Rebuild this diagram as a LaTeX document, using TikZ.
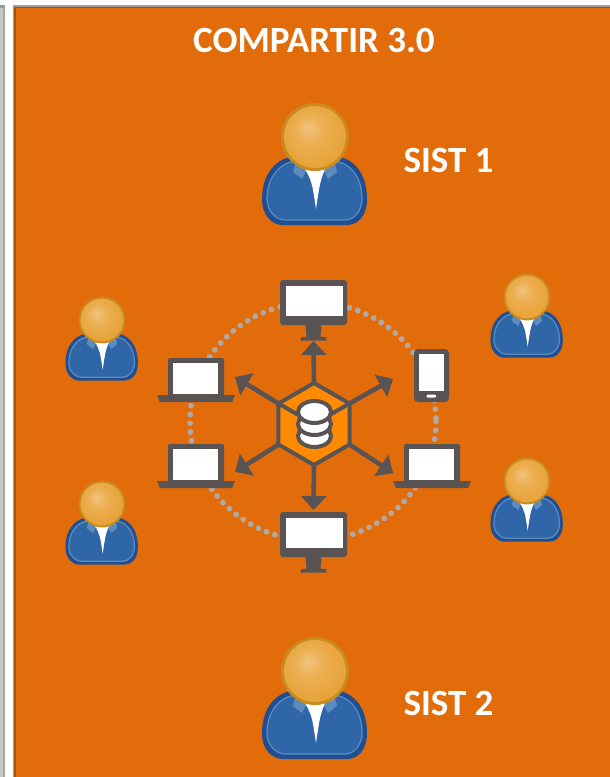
\documentclass[tikz,border=0pt]{standalone}
\usepackage{fontspec}
\setmainfont{Carlito}
\usetikzlibrary{arrows.meta,shapes.geometric}

\definecolor{panelorange}{HTML}{E36C0A}
\definecolor{paneledge}{HTML}{A85208}
\definecolor{hubgray}{HTML}{595354}
\definecolor{hubfill}{HTML}{FF8A00}
\definecolor{ringgray}{HTML}{AFA8A4}
\definecolor{headring}{HTML}{C98B20}
\definecolor{headlight}{HTML}{F0C480}
\definecolor{headmid}{HTML}{ECAE50}
\definecolor{headdark}{HTML}{E49C2A}
\definecolor{bodydark}{HTML}{1F4F92}
\definecolor{bodyblue}{HTML}{2E66A8}
\definecolor{bodyline}{HTML}{5C8CBE}

\pgfdeclareradialshading{headshade}{\pgfpoint{-6bp}{8bp}}{
    color(0bp)=(headlight);
    color(12bp)=(headmid);
    color(38bp)=(headdark);
    color(50bp)=(headdark)}

\tikzset{
    labeltext/.style={text=white, font=\fontsize{18.5pt}{20pt}\selectfont\bfseries, inner sep=0pt},
    hexhub/.style={regular polygon, regular polygon sides=6, shape border rotate=30,
        minimum size=41pt, inner sep=0pt, outer sep=0pt,
        draw=hubgray, line width=2pt, fill=hubfill},
    spoke/.style={hubgray, line width=2.3pt, -{Triangle[length=7pt,width=12.5pt]}},
    ringdots/.style={ringgray, line width=2.9pt, line cap=round, dash pattern=on 0pt off 4.4pt},
    disk/.style={draw=hubgray, line width=2pt, fill=white},
    person/.pic={
        % Body
        \fill[bodydark] (-53,62) .. controls (-53,40) and (-42,24) .. (-25,20) -- (25,20)
            .. controls (42,24) and (52,40) .. (52,62) .. controls (52,80) and (42,88) .. (32,88)
            -- (-32,88) .. controls (-42,88) and (-53,80) .. (-53,62) -- cycle;
        \draw[bodyline, fill=bodyblue, line width=0.6pt] (-48,62) .. controls (-48,44) and (-39,29) .. (-24,25) -- (24,25)
            .. controls (39,29) and (47,44) .. (47,62) .. controls (47,74) and (39,83) .. (30,83)
            -- (-30,83) .. controls (-39,83) and (-48,74) .. (-48,62) -- cycle;
        % Collar and shirt
        \fill[bodyline] (-20,27) -- (-8,32) -- (-13,42) -- (-22,35) -- cycle;
        \fill[bodyline] (20,27) -- (8,32) -- (13,42) -- (22,35) -- cycle;
        \fill[white] (-10,32) -- (10,32) .. controls (5,45) .. (1,72) .. controls (-3,45) .. (-10,32) -- cycle;
        % Head
        \fill[headring] (0,0) circle (34);
        \shade[shading=headshade] (0,0) circle (31);
    },
    monitor/.pic={
        \fill[hubgray] (-8,22) -- (8,22) -- (7,34) -- (13,35) -- (13,38) -- (-13,38) -- (-13,35) -- (-7,34) -- cycle;
        \fill[hubgray, rounded corners=1.5pt] (-33.5,-22.5) rectangle (33.5,22.5);
        \fill[white] (-28,-16.5) rectangle (29,13.5);
    },
    laptop/.pic={
        \fill[hubgray, rounded corners=1pt] (-28,-37) rectangle (28,2);
        \fill[white] (-23,-32) rectangle (22,-1);
        \fill[hubgray] (-39,0) -- (39,0) -- (36,7) -- (-36,7) -- cycle;
    },
    phone/.pic={
        \fill[hubgray, rounded corners=2pt] (-17.5,-26.5) rectangle (17.5,26.5);
        \fill[white] (-12.5,-22) rectangle (12.5,15);
        \fill[white, rounded corners=0.5pt] (-5,19) rectangle (4.5,22);
    },
}

\begin{document}
\begin{tikzpicture}[x=0.5pt, y=-0.5pt]

    % Page and side strip
    \useasboundingbox (0,0) rectangle (610,777);
    \fill[white] (0,0) rectangle (610,777);
    \fill[gray!45] (0,5) rectangle (3,777);
    \fill[gray!70] (3,5) rectangle (5,777);
    \fill[gray!80] (0,5) rectangle (5,8);

    % Orange panel
    \fill[gray!75] (13,5) rectangle (610,777);
    \fill[paneledge] (14,7) rectangle (610,777);
    \fill[panelorange] (16,8) rectangle (610,777);

    % Labels
    \node[labeltext] (title) at (314,40) {COMPARTIR 3.0};
    \node[labeltext] (sist1) at (448.5,160) {SIST 1};
    \node[labeltext] (sist2) at (448.5,703) {SIST 2};

    % Users
    \pic at (315,137) {person};
    \pic at (315,671) {person};
    \pic[scale=0.69] at (102,320) {person};
    \pic[scale=0.69] at (102,504) {person};
    \pic[scale=0.69] at (527,297) {person};
    \pic[scale=0.69] at (527,481) {person};

    % Dotted ring
    \coordinate (ringc) at (313,421.5);
    \draw[ringdots] (ringc) ellipse (123 and 119);

    % Devices
    \pic at (313.5,302.5) {monitor};
    \pic at (313.5,534.5) {monitor};
    \pic at (196,395) {laptop};
    \pic at (196,481) {laptop};
    \pic at (432,481) {laptop};
    \pic at (431.5,375.5) {phone};

    % Hub and spokes
    \node[hexhub] (hub) at (314,424) {};
    \coordinate (tipn) at (313.5,341);
    \coordinate (tips) at (313.5,510);
    \coordinate (tipnw) at (235,377);
    \coordinate (tipne) at (393,379);
    \coordinate (tipsw) at (235,472);
    \coordinate (tipse) at (393,473);
    \draw[spoke] (hub.90) -- (tipn);
    \draw[spoke] (hub.270) -- (tips);
    \draw[spoke] (hub.150) -- (tipnw);
    \draw[spoke] (hub.30) -- (tipne);
    \draw[spoke] (hub.210) -- (tipsw);
    \draw[spoke] (hub.330) -- (tipse);

    % Database
    \draw[hubgray, line width=2pt] (hub.150) -- (314,424) -- (hub.30);
    \draw[disk] (314.5,436) ellipse (16.5 and 11);
    \draw[disk] (314.5,424) ellipse (16.5 and 11);
    \draw[disk] (314.5,412) ellipse (16.5 and 11);

\end{tikzpicture}
\end{document}
